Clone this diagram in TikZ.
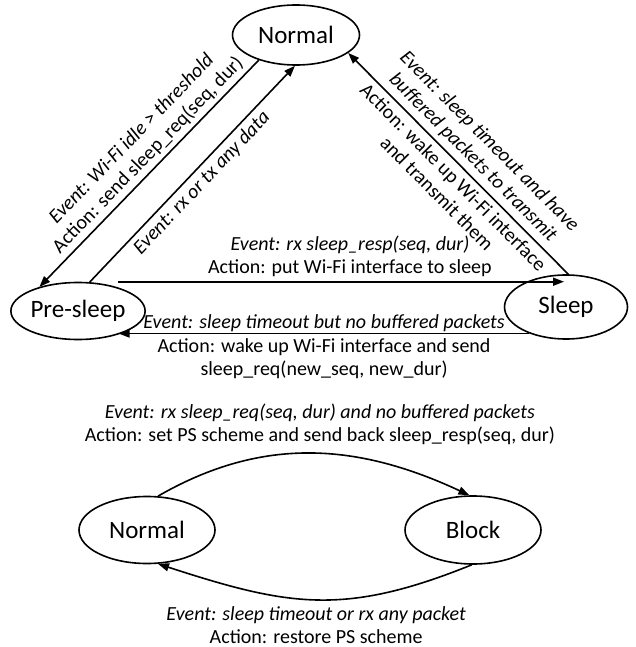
\documentclass[tikz,border=0pt]{standalone}
\usepackage{fontspec}
\setmainfont{Carlito}
\usetikzlibrary{arrows.meta,shapes.geometric}

\begin{document}
\begin{tikzpicture}[x=1pt,y=-1pt,
  state/.style={draw, ellipse, line width=1.6pt, minimum width=127pt, minimum height=60pt, inner sep=0pt, font=\fontsize{25}{30}\selectfont},
  trans/.style={line width=1.6pt, -{Triangle[length=11pt,width=8pt]}},
  lbl/.style={font=\fontsize{20}{23}\selectfont, align=center, inner sep=4pt},
  ev/.style={lbl, font=\fontsize{20}{23}\selectfont\itshape}]
\useasboundingbox (0,0) rectangle (636,647);

%Shape: Ellipse
\node[state] (normal) at (296,35) {Normal};
%Shape: Ellipse
\node[state, minimum height=57pt] (presleep) at (78,311) {Pre-sleep};
%Shape: Ellipse
\node[state, minimum width=123pt, minimum height=64pt] (sleep) at (566,307) {Sleep};

%Straight Lines
\draw[trans] (normal.214) -- node[lbl, sloped, above, pos=0.46] (idle) {\textit{Event: Wi-Fi idle > threshold}\\Action: send sleep\_req(seq, dur)} (presleep.148);
%Straight Lines
\draw[trans] (presleep.68) -- node[ev, sloped, below, midway] (anydata) {Event: rx or tx any data} (normal.268);
%Straight Lines
\draw[trans] (sleep.86) -- node[ev, sloped, above, inner sep=5pt, pos=0.48] (timeout) {Event: sleep timeout and have\\buffered packets to transmit}
  node[lbl, sloped, below, inner sep=5pt, pos=0.48] (wakeup) {Action: wake up Wi-Fi interface\\and transmit them} (normal.341);
%Straight Lines
\draw[trans] ([xshift=40pt]presleep.north) -- node[lbl, above, pos=0.52] (resp) {\textit{Event: rx sleep\_resp(seq, dur)}\\Action: put Wi-Fi interface to sleep} ([xshift=40pt]presleep.north -| sleep.150);
%Straight Lines
\draw[trans] (sleep.216) -- node[ev, above, inner sep=1pt, midway] (nobuf) {Event: sleep timeout but no buffered packets}
  node[lbl, below, midway] (newreq) {Action: wake up Wi-Fi interface and send\\sleep\_req(new\_seq, new\_dur)} (sleep.216 -| presleep.-30);

%Shape: Ellipse
\node[state, minimum width=136pt, minimum height=67pt] (normalb) at (147,530) {Normal};
%Shape: Ellipse
\node[state, minimum width=136pt, minimum height=68pt] (block) at (473,530) {Block};

%Curve Lines
\draw[trans] (normalb.72) to[out=30, in=155] node[lbl, midway, above=4pt, xshift=8pt] (setps) {\textit{Event: rx sleep\_req(seq, dur) and no buffered packets}\\Action: set PS scheme and send back sleep\_resp(seq, dur)} (block.96);
%Curve Lines
\draw[trans] (block.268) to[out=202, in=-18, looseness=1.12] node[lbl, midway, below=5pt, inner sep=1pt] (restore) {\textit{Event: sleep timeout or rx any packet}\\Action: restore PS scheme} (normalb.288);

\end{tikzpicture}
\end{document}
